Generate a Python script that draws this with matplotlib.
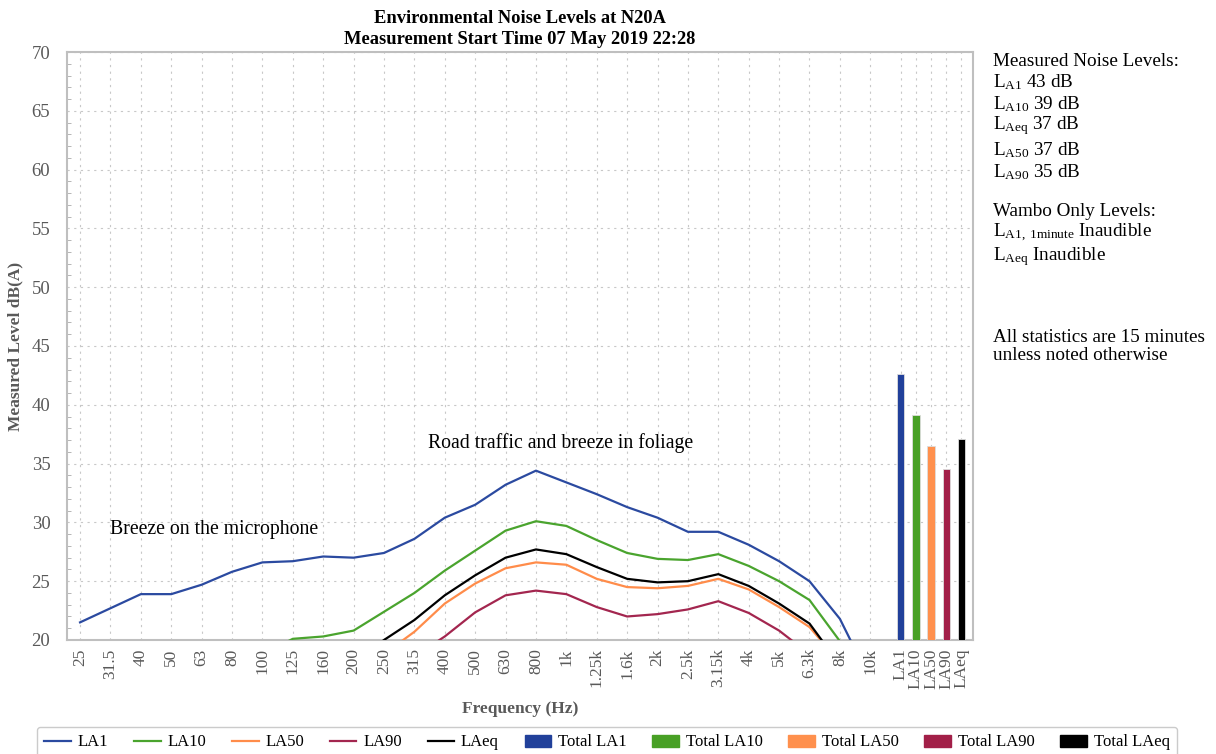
import matplotlib
matplotlib.use('Agg')
import matplotlib.pyplot as plt
from matplotlib.patches import Patch
from matplotlib.lines import Line2D
import numpy as np

plt.rcParams['font.family'] = ['Liberation Serif', 'DejaVu Serif']
plt.rcParams['mathtext.fontset'] = 'custom'
plt.rcParams['mathtext.rm'] = 'Liberation Serif'

# data
freqs = ['25', '31.5', '40', '50', '63', '80', '100', '125', '160', '200', '250', '315', '400',
         '500', '630', '800', '1k', '1.25k', '1.6k', '2k', '2.5k', '3.15k', '4k', '5k', '6.3k',
         '8k', '10k']
la1 = [21.5, 22.7, 23.9, 23.9, 24.7, 25.8, 26.6, 26.7, 27.1, 27.0, 27.4, 28.6, 30.4, 31.5,
       33.2, 34.4, 33.4, 32.4, 31.3, 30.4, 29.2, 29.2, 28.1, 26.7, 25.0, 21.8, 16.6]
la10 = [15.0, 15.5, 16.5, 16.8, 17.5, 18.2, 18.8, 20.1, 20.3, 20.8, 22.4, 24.0, 25.9, 27.6,
        29.3, 30.1, 29.7, 28.5, 27.4, 26.9, 26.8, 27.3, 26.3, 25.0, 23.4, 19.9, 15.0]
la50 = [13.0, 13.5, 14.0, 14.5, 15.0, 15.6, 16.2, 16.8, 17.2, 17.6, 18.8, 20.7, 23.1, 24.8,
        26.1, 26.6, 26.4, 25.2, 24.5, 24.4, 24.6, 25.2, 24.3, 22.8, 21.1, 18.1, 14.0]
la90 = [11.0, 11.5, 12.0, 12.5, 13.0, 13.5, 14.0, 14.6, 15.2, 15.8, 16.8, 18.6, 20.3, 22.35,
        23.8, 24.2, 23.9, 22.8, 22.0, 22.2, 22.6, 23.3, 22.3, 20.8, 18.8, 15.5, 12.0]
laeq = [14.0, 14.5, 15.0, 15.5, 16.0, 16.5, 17.0, 17.5, 17.8, 18.2, 20.0, 21.7, 23.8, 25.5,
        27.0, 27.7, 27.3, 26.2, 25.2, 24.9, 25.0, 25.6, 24.6, 23.1, 21.4, 17.9, 14.5]
total_labels = ['LA1', 'LA10', 'LA50', 'LA90', 'LAeq']
totals = [42.6, 39.1, 36.5, 34.5, 37.1]

line_colors = ['#2b4aa0', '#4aa42e', '#ff8c4a', '#a3264f', '#000000']
bar_colors = ['#21409a', '#48a025', '#ff904d', '#a21f48', '#000000']
series_names = ['LA1', 'LA10', 'LA50', 'LA90', 'LAeq']

fig = plt.figure(figsize=(12.16, 7.54), dpi=100)
ax = fig.add_axes([67/1216, 114/754, 906/1216, 588/754])

x = np.arange(len(freqs))
for vals, c in zip([la1, la10, la50, la90, laeq], line_colors):
    ax.plot(x, vals, color=c, lw=1.6, zorder=3)

xb = len(freqs) + 0.5 * np.arange(len(totals))
ax.bar(xb, [t - 20 for t in totals], bottom=20, width=0.24, color=bar_colors,
       edgecolor='#dddddd', linewidth=0.6, zorder=3)

ax.set_xlim(-0.43, xb[-1] + 0.38)
ax.set_ylim(20, 70)
ax.set_xticks(list(x) + list(xb))
ax.set_xticklabels(freqs + total_labels, rotation=90, fontsize=12.5, color='#595959')
ax.set_yticks(np.arange(20, 71, 5))
ax.set_yticks(np.arange(20, 71, 1), minor=True)
ax.tick_params(axis='y', which='major', length=0, labelsize=13.5, labelcolor='#595959', pad=12)
ax.tick_params(axis='y', which='minor', length=3, direction='in', color='#aaaaaa')
ax.tick_params(axis='x', length=0, pad=6)
ax.grid(True, which='major', color='#c8c8c8', linestyle=(0, (2, 4)), linewidth=0.8, zorder=0)
for s in ax.spines.values():
    s.set_color('#bfbfbf')
    s.set_linewidth(1.5)

ax.set_ylabel('Measured Level dB(A)', fontsize=12.5, fontweight='bold', color='#595959', labelpad=6)
ax.set_xlabel('Frequency (Hz)', fontsize=12.5, fontweight='bold', color='#595959', labelpad=9)
ax.set_title('Environmental Noise Levels at N20A\nMeasurement Start Time 07 May 2019 22:28',
             fontsize=13.3, fontweight='bold', pad=6, linespacing=1.3)

ax.text(1.0, 29.4, 'Breeze on the microphone', fontsize=14.2, va='center', ha='left')
ax.text(11.45, 36.75, 'Road traffic and breeze in foliage', fontsize=14.2, va='center', ha='left')

# side notes
notes = [
    (61, 'Measured Noise Levels:'),
    (82, r'$\mathrm{L_{A1}}$ 43 dB'),
    (104, r'$\mathrm{L_{A10}}$ 39 dB'),
    (126, r'$\mathrm{L_{Aeq}}$ 37 dB'),
    (150, r'$\mathrm{L_{A50}}$ 37 dB'),
    (172, r'$\mathrm{L_{A90}}$ 35 dB'),
    (212, 'Wambo Only Levels:'),
    (233, r'$\mathrm{L_{A1,\,1minute}}$ Inaudible'),
    (257, r'$\mathrm{L_{Aeq}}$ Inaudible'),
    (338, 'All statistics are 15 minutes'),
    (356, 'unless noted otherwise'),
]
for yp, t in notes:
    fig.text(993/1216, 1 - yp/754, t, fontsize=13.8, va='center', ha='left')

handles = [Line2D([0], [0], color=c, lw=1.6) for c in line_colors]
handles += [Patch(facecolor=c, edgecolor=c) for c in bar_colors]
labels = series_names + ['Total ' + n for n in series_names]
fig.legend(handles, labels, loc='upper center', bbox_to_anchor=(607/1216, 1 - 727/754),
           ncol=10, fontsize=12, frameon=True, edgecolor='#bfbfbf', fancybox=True,
           handlelength=1.6, columnspacing=1.55, handletextpad=0.4, borderpad=0.45,
           borderaxespad=0)

fig.savefig('out.png', dpi=100)
